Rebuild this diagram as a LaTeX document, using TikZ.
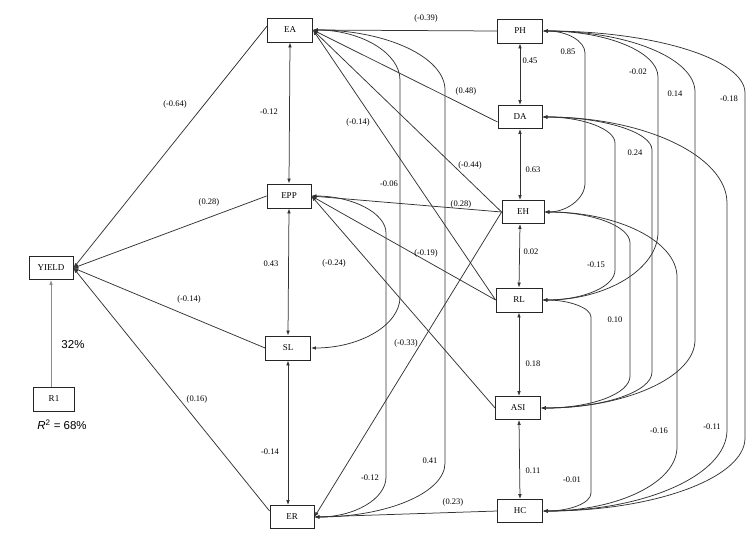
\documentclass[tikz,border=0pt]{standalone}
\usepackage{fontspec}
\setmainfont{Liberation Serif}
\newfontfamily\sansfam{Liberation Sans}
\usetikzlibrary{arrows.meta}
\begin{document}
\begin{tikzpicture}[x=1pt,y=-1pt,
  >={Latex[length=5pt,width=3.6pt]},
  box/.style={draw=black!85,line width=0.8pt,minimum width=44pt,minimum height=23pt,inner sep=0pt,font=\fontsize{9}{10}\selectfont},
  lbl/.style={font=\fontsize{8.5}{9}\selectfont,inner sep=0pt},
  conn/.style={draw=black!80,line width=0.75pt,->},
  corr/.style={draw=black!80,line width=0.75pt,<->},
  big/.style={font=\sansfam\fontsize{11.5}{12}\selectfont,inner sep=0pt}]
\useasboundingbox (0,0) rectangle (754,536);
% nodes
\node[box] (YIELD) at (51,268) {YIELD};
\node[box,minimum width=41pt,minimum height=24pt] (R1) at (54,399) {R1};
\node[box,minimum width=45pt,minimum height=24pt] (EA) at (290,30) {EA};
\node[box,minimum height=24pt] (EPP) at (289,196) {EPP};
\node[box,minimum width=45pt,minimum height=24pt] (SL) at (288,348) {SL};
\node[box] (ER) at (292,517) {ER};
\node[box,minimum width=45pt,minimum height=24pt] (PH) at (520,31) {PH};
\node[box] (DA) at (520,117) {DA};
\node[box,minimum width=42pt] (EH) at (523,212) {EH};
\node[box,minimum width=46pt,minimum height=24pt] (RL) at (519,300) {RL};
\node[box,minimum width=45pt] (ASI) at (518,408) {ASI};
\node[box,minimum width=45pt] (HC) at (520,511) {HC};
% paths to YIELD
\draw[conn] ([yshift=4pt]EA.west) -- (YIELD.east);
\draw[conn] (EPP.west) -- (YIELD.east);
\draw[conn] (SL.west) -- (YIELD.east);
\draw[conn] ([yshift=6pt]ER.west) -- (YIELD.east);
\draw[conn,draw=black!45] (R1.north -| YIELD.south) -- (YIELD.south);
% vertical correlations left
\draw[corr] (EA.south) -- (EPP.north);
\draw[corr] (EPP.south) -- (SL.north);
\draw[corr] (SL.south) -- (SL.south |- ER.north);
% vertical correlations right
\draw[corr] (PH.south) -- (DA.north);
\draw[corr] (DA.south) -- (DA.south |- EH.north);
\draw[corr] (DA.south |- EH.south) -- (RL.north);
\draw[corr] (RL.south) -- (RL.south |- ASI.north);
\draw[corr] (RL.south |- ASI.south) -- (HC.north);
% right to left paths
\draw[conn] (PH.west) -- (EA.east);
\draw[conn] ([yshift=-5pt]DA.west) -- (EA.east);
\draw[conn] (EH.west) -- (EA.east);
\draw[conn] (RL.west) -- (EA.east);
\draw[conn] (EH.west) -- (EPP.east);
\draw[conn] (RL.west) -- (EPP.east);
\draw[conn] (ASI.west) -- (EPP.east);
\draw[conn] (EH.west) -- (ER.east);
\draw[conn] (HC.west) -- (ER.east);
% left curved correlations
\draw[corr] (EA.east) to[out=0,in=90,out distance=48pt,in distance=27pt] (400,80) -- (400,297) to[out=-90,in=0,out distance=28pt,in distance=49pt] (SL.east);
\draw[corr] (EA.east) to[out=0,in=90,out distance=73pt,in distance=33pt] (445,90) -- (445,463) to[out=-90,in=0,out distance=30pt,in distance=72pt] (ER.east);
\draw[corr] (EPP.east) to[out=0,in=90,out distance=41pt,in distance=20pt] (386,233) -- (386,477) to[out=-90,in=0,out distance=22pt,in distance=40pt] (ER.east);
% right curved correlations
\draw[corr] (PH.east) to[out=0,in=90,out distance=24pt,in distance=12pt] (585,53) -- (585,183) to[out=-90,in=0,out distance=16pt,in distance=22pt] (EH.east);
\draw[corr] (PH.east) to[out=0,in=90,out distance=64pt,in distance=25pt] (658,77) -- (658,232) to[out=-90,in=0,out distance=37pt,in distance=64pt] (RL.east);
\draw[corr] (PH.east) to[out=0,in=90,out distance=84pt,in distance=34pt] (695,92) -- (695,340) to[out=-90,in=0,out distance=37pt,in distance=85pt] (ASI.east);
\draw[corr] (PH.east) to[out=0,in=90,out distance=111pt,in distance=34pt] (745,93) -- (745,438) to[out=-90,in=0,out distance=40pt,in distance=111pt] (HC.east);
\draw[corr] (DA.east) to[out=0,in=90,out distance=40pt,in distance=14pt] (615,143) -- (615,270) to[out=-90,in=0,out distance=17pt,in distance=40pt] (RL.east);
\draw[corr] (DA.east) to[out=0,in=90,out distance=60pt,in distance=18pt] (652,150) -- (652,372) to[out=-90,in=0,out distance=20pt,in distance=62pt] (ASI.east);
\draw[corr] (DA.east) to[out=0,in=90,out distance=102pt,in distance=47pt] (727,203) -- (727,430) to[out=-90,in=0,out distance=45pt,in distance=102pt] (HC.east);
\draw[corr] (EH.east) to[out=0,in=90,out distance=47pt,in distance=17pt] (630,243) -- (630,376) to[out=-90,in=0,out distance=18pt,in distance=50pt] (ASI.east);
\draw[corr] (EH.east) to[out=0,in=90,out distance=73pt,in distance=36pt] (677,277) -- (677,447) to[out=-90,in=0,out distance=36pt,in distance=74pt] (HC.east);
\draw[corr] (RL.east) to[out=0,in=90,out distance=27pt,in distance=9pt] (591,317) -- (591,493) to[out=-90,in=0,out distance=10pt,in distance=27pt] (HC.east);
% labels
\node[lbl] (l1) at (175,104) {(-0.64)};
\node[lbl] (l2) at (209,202) {(0.28)};
\node[lbl] (l3) at (189,299) {(-0.14)};
\node[lbl] (l4) at (197,399) {(0.16)};
\node[big] (l5) at (73,345) {32\%};
\node[big] (l6) at (62,425) {\textit{R}\textsuperscript{2} = 68\%};
\node[lbl] (l7) at (269,112) {-0.12};
\node[lbl] (l8) at (271,264) {0.43};
\node[lbl] (l9) at (270,452) {-0.14};
\node[lbl] (l10) at (426,18) {(-0.39)};
\node[lbl] (l11) at (466,91) {(0.48)};
\node[lbl] (l12) at (358,122) {(-0.14)};
\node[lbl] (l13) at (470,165) {(-0.44)};
\node[lbl] (l14) at (389,184) {-0.06};
\node[lbl] (l15) at (461,204) {(0.28)};
\node[lbl] (l16) at (426,253) {(-0.19)};
\node[lbl] (l17) at (334,263) {(-0.24)};
\node[lbl] (l18) at (406,343) {(-0.33)};
\node[lbl] (l19) at (370,478) {-0.12};
\node[lbl] (l20) at (430,461) {0.41};
\node[lbl] (l21) at (453,502) {(0.23)};
\node[lbl] (l22) at (530,61) {0.45};
\node[lbl] (l23) at (533,170) {0.63};
\node[lbl] (l24) at (531,252) {0.02};
\node[lbl] (l25) at (533,364) {0.18};
\node[lbl] (l26) at (533,471) {0.11};
\node[lbl] (l27) at (568,52) {0.85};
\node[lbl] (l28) at (638,72) {-0.02};
\node[lbl] (l29) at (675,94) {0.14};
\node[lbl] (l30) at (729,99) {-0.18};
\node[lbl] (l31) at (635,153) {0.24};
\node[lbl] (l32) at (596,265) {-0.15};
\node[lbl] (l33) at (615,320) {0.10};
\node[lbl] (l34) at (659,431) {-0.16};
\node[lbl] (l35) at (712,427) {-0.11};
\node[lbl] (l36) at (572,480) {-0.01};
\end{tikzpicture}
\end{document}
